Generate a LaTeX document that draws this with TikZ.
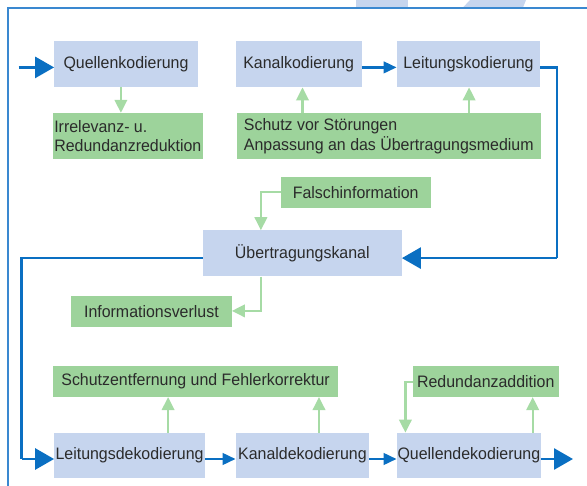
\documentclass[tikz,border=0pt]{standalone}
\usepackage{fontspec}
\setmainfont[FakeStretch=0.96]{Liberation Sans}
\usetikzlibrary{arrows.meta}
\definecolor{boxblue}{HTML}{C6D5EE}
\definecolor{boxgreen}{HTML}{9DD39B}
\definecolor{lineblue}{HTML}{0A6FC2}
\definecolor{framblue}{HTML}{3A88D0}
\definecolor{linegreen}{HTML}{A6DBA5}
\definecolor{txt}{HTML}{2B2B2B}
\tikzset{
  boxfont/.style={font=\fontsize{16.6}{19.5}\selectfont},
  bbox/.style={fill=boxblue, text=txt, inner sep=0pt, boxfont},
  gbox/.style={fill=boxgreen, text=txt, inner sep=0pt, align=left, boxfont},
  bigflow/.style={draw=lineblue, line width=2.8pt, -{Triangle[length=19pt,width=21pt]}},
  smallflow/.style={draw=lineblue, line width=2.6pt, -{Triangle[length=13pt,width=11.5pt]}},
  route/.style={draw=lineblue, line width=2.8pt},
  gflow/.style={draw=linegreen, line width=2.3pt, -{Triangle[length=13pt,width=12.5pt]}},
  deco/.style={fill=boxblue, draw=none}
}
\begin{document}
\begin{tikzpicture}[x=1pt,y=-1pt]
\useasboundingbox (0,0) rectangle (587,486);
% decoration at top
\fill[deco] (356,0) rectangle (408,7.5);
\fill[deco] (463,7.5) -- (470,0) -- (526,0) -- (523,7.5) -- cycle;
% frame
\draw[framblue, line width=1.3pt] (8,486) -- (8,8) -- (587,8);
% top row
\node[bbox, minimum width=143.4pt, minimum height=46pt] (qk) at (126,64.2) {Quellenkodierung\hspace{9pt}};
\node[bbox, minimum width=125.8pt, minimum height=46pt] (kk) at (298.7,64.2) {Kanalkodierung};
\node[bbox, minimum width=143.4pt, minimum height=46pt] (lk) at (468.5,64.2) {Leitungskodierung};
\node[gbox, minimum width=149.3pt, minimum height=46pt] (irr) at (127.85,136) {Irrelevanz- u.\\Redundanzreduktion};
\node[gbox, minimum width=303.6pt, minimum height=46pt] (sch) at (388.8,136) {Schutz vor Störungen\\Anpassung an das Übertragungsmedium};
% channel
\node[gbox, minimum width=149.7pt, minimum height=31.1pt] (fal) at (355.65,192.35) {Falschinformation};
\node[bbox, minimum width=198.8pt, minimum height=46pt] (ub) at (302.3,253.4) {Übertragungskanal};
\node[gbox, minimum width=160.6pt, minimum height=31.1pt] (inf) at (151.4,311.45) {Informationsverlust};
% bottom row
\node[gbox, minimum width=284.8pt, minimum height=30.7pt] (sef) at (195.6,381.55) {Schutzentfernung und Fehlerkorrektur};
\node[gbox, minimum width=145.7pt, minimum height=30.7pt] (red) at (485.75,381.55) {Redundanzaddition};
\node[bbox, minimum width=150.5pt, minimum height=45.7pt] (ld) at (129.55,455.65) {Leitungsdekodierung};
\node[bbox, minimum width=133.3pt, minimum height=45.7pt] (kd) at (302.45,455.65) {Kanaldekodierung};
\node[bbox, minimum width=144.2pt, minimum height=45.7pt] (qd) at (468.9,455.65) {Quellendekodierung};
% coordinates
\coordinate (in) at (18.7,67.4);
\coordinate (out) at (573,459);
\coordinate (r1) at (557,67.4);
\coordinate (r2) at (557,258.1);
\coordinate (l1) at (21.7,258.1);
\coordinate (l2) at (21.7,459);
\coordinate (f1) at (260.9,192.35);
\coordinate (i1) at (260.9,310.9);
\coordinate (d1) at (405.4,381.9);
% blue flow
\draw[bigflow] (in) -- (qk.west |- in);
\draw[smallflow] (kk.east |- in) -- (lk.west |- in);
\draw[route] (lk.east |- r1) -- (r1) -- (r2);
\draw[bigflow] (r2) -- (ub.east |- r2);
\draw[route] (ub.west |- l1) -- (l1) -- (l2);
\draw[bigflow] (l2) -- (ld.west |- l2);
\draw[smallflow] (ld.east |- l2) -- (kd.west |- l2);
\draw[smallflow] (kd.east |- l2) -- (qd.west |- l2);
\draw[bigflow] (qd.east |- l2) -- (out);
% green flows
\draw[gflow] (qk.south -| 120.9,0) -- (irr.north -| 120.9,0);
\draw[gflow] (sch.north -| 302.5,0) -- (kk.south -| 302.5,0);
\draw[gflow] (sch.north -| 469.1,0) -- (lk.south -| 469.1,0);
\draw[gflow] (fal.west) -- (f1) -- (ub.north -| f1);
\draw[gflow] (ub.south -| i1) -- (i1) -- (inf.east |- i1);
\draw[gflow] (ld.north -| 168.1,0) -- (sef.south -| 168.1,0);
\draw[gflow] (kd.north -| 319,0) -- (sef.south -| 319,0);
\draw[gflow] (qd.north -| 532.7,0) -- (red.south -| 532.7,0);
\draw[gflow] (red.west |- d1) -- (d1) -- (qd.north -| d1);
\end{tikzpicture}
\end{document}
